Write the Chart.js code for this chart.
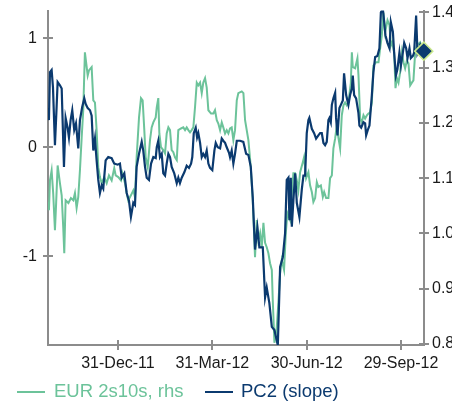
<!DOCTYPE html>
<html lang="en">
<head>
<meta charset="UTF-8">
<title>EUR 2s10s vs PC2 (slope)</title>
<script src="https://cdn.jsdelivr.net/npm/chart.js"></script>
<style>
  body { margin: 0; background: #fff; }
  #wrap { position: relative; width: 452px; height: 403px; font-family: "Liberation Sans", Arial, sans-serif; }
  #chart { position: absolute; left: 0; top: 0; }
  .legend { position: absolute; top: 380px; font-size: 18.5px; line-height: 22px; white-space: nowrap; }
  .swatch { position: absolute; top: 11px; width: 28px; height: 2px; }
</style>
</head>
<body>
<div id="wrap">
  <canvas id="chart" width="452" height="403"></canvas>
  <div class="legend" style="left:17px"><span class="swatch" style="left:0;background:#6cc39a"></span><span style="margin-left:37px;color:#6cc39a">EUR 2s10s, rhs</span></div>
  <div class="legend" style="left:205px"><span class="swatch" style="left:0;background:#0b3a6f"></span><span style="margin-left:36px;color:#0b3a6f">PC2 (slope)</span></div>
</div>

<script>
// x values are days counted from 31-Dec-11
const tickDays = [0, 91, 182, 273];
const tickLabels = ['31-Dec-11', '31-Mar-12', '30-Jun-12', '29-Sep-12'];

// PC2 (slope), left axis
const pc2Days = [-67.5,-66.6,-65.6,-64.0,-62.7,-60.8,-59.2,-58.2,-56.0,-54.3,
  -52.1,-50.5,-48.6,-47.3,-45.7,-44.1,-42.2,-40.5,-38.3,-36.7,
  -34.5,-32.5,-31.2,-29.2,-27.0,-25.4,-23.8,-22.2,-20.6,-19.0,
  -17.4,-15.7,-14.2,-11.9,-9.4,-6.1,-3.6,-0.3,1.9,3.6,
  6.1,8.4,10.6,12.5,14.8,16.4,18.0,20.3,22.9,24.4,
  26.1,27.7,29.9,31.9,34.1,36.4,37.4,38.9,40.5,42.2,
  43.7,45.4,47.0,48.6,50.2,51.8,54.3,56.7,58.2,59.8,
  61.5,64.0,66.3,68.5,70.5,71.7,73.1,75.0,76.3,77.5,
  79.2,80.8,82.3,84.0,85.6,87.2,88.8,91.0,93.0,94.3,
  96.2,98.5,100.1,101.6,103.3,104.9,107.1,108.1,109.7,111.3,
  112.9,114.6,117.8,120.9,123.6,125.8,128.1,130.0,132.2,134.5,
  136.4,139.7,141.9,143.5,146.0,148.4,150.9,154.2,156.4,159.0,
  161.2,162.8,164.4,165.4,166.7,167.7,169.2,170.9,172.5,175.0,
  177.3,178.9,180.5,182.1,183.7,184.6,187.0,189.2,191.1,193.3,
  195.0,196.6,198.2,199.8,201.4,203.0,204.0,205.3,206.3,207.8,
  209.5,210.4,211.7,213.6,215.0,216.9,218.1,220.1,222.3,223.9,
  225.6,226.5,227.8,229.7,231.9,232.9,234.6,236.8,238.4,239.4,
  241.0,242.6,244.9,246.4,248.1,250.3,252.2,253.6,255.5,256.8,
  258.0,259.9,261.9,263.2,265.2,266.4,268.1,269.6,271.5,272.9,
  274.8,276.1,278.0,279.3,281.2,282.5,284.5,285.7,287.6,288.9,
  291.5,293.4];
const pc2Values = [0.36,0.25,0.69,0.71,0.55,0.02,0.37,0.60,0.57,0.54,
  -0.18,0.27,0.18,0.09,0.25,0.34,0.16,0.22,-0.01,0.25,
  0.37,0.45,0.40,0.36,0.34,0.29,-0.03,0.08,-0.12,-0.30,
  -0.42,-0.35,-0.38,-0.12,-0.09,-0.10,-0.15,-0.16,-0.15,-0.28,
  -0.24,-0.42,-0.49,-0.64,-0.51,-0.53,-0.18,-0.06,0.05,-0.03,
  -0.18,-0.28,-0.30,-0.15,-0.09,-0.10,0.00,0.06,-0.09,-0.06,
  -0.24,-0.26,-0.15,-0.06,-0.09,-0.18,-0.24,-0.33,-0.28,-0.33,
  -0.28,-0.23,-0.17,-0.19,-0.15,-0.09,0.13,0.18,0.09,0.13,
  0.04,-0.09,-0.06,-0.09,-0.03,-0.15,-0.19,-0.21,-0.03,0.04,
  0.00,-0.01,0.08,0.06,0.04,0.00,-0.05,-0.09,-0.03,-0.15,
  -0.06,0.06,0.06,0.05,-0.06,-0.07,-0.18,-0.46,-0.94,-0.74,
  -0.92,-0.92,-1.38,-1.29,-1.43,-1.65,-1.68,-1.82,-1.10,-1.01,
  -0.79,-0.30,-0.28,-0.67,-0.28,-0.73,-0.49,-0.24,-0.51,-0.64,
  -0.39,-0.26,-0.26,0.13,0.25,0.27,0.17,0.13,0.08,0.11,
  0.13,0.13,0.04,0.02,0.05,0.25,0.27,0.23,0.39,0.45,
  0.50,0.27,0.11,0.36,0.39,0.43,0.68,0.48,0.39,0.48,
  0.54,0.66,0.48,0.45,0.32,0.20,0.18,0.23,0.22,0.11,
  0.16,0.20,0.48,0.69,0.83,0.84,0.91,1.24,1.27,1.15,
  1.03,0.96,0.91,1.15,1.06,0.87,0.66,0.72,0.87,0.75,
  0.87,0.96,0.91,0.82,0.91,0.82,0.84,0.87,1.21,0.87,
  0.94,0.89];

// EUR 2s10s, right axis
const eurDays = [-67.5,-66.6,-65.6,-64.0,-62.5,-60.8,-59.8,-58.2,-56.0,-54.3,
  -52.8,-51.8,-50.5,-47.8,-45.4,-43.1,-41.5,-39.9,-38.3,-36.7,
  -35.0,-33.5,-31.9,-29.2,-28.0,-25.4,-23.8,-22.2,-20.6,-19.0,
  -17.4,-15.7,-13.2,-10.9,-8.7,-6.1,-3.6,-2.2,0.3,2.9,
  4.2,6.8,8.4,9.9,12.5,14.8,16.4,18.0,20.3,22.2,
  23.8,25.4,26.7,28.7,30.9,32.5,34.1,36.4,37.4,38.9,
  39.9,41.5,43.7,45.4,47.0,48.6,50.2,51.8,53.4,55.0,
  56.7,58.2,60.8,63.0,64.7,66.3,67.9,69.5,71.1,72.7,
  74.3,76.0,77.5,79.2,80.8,82.3,84.0,85.6,87.2,89.8,
  92.0,93.6,95.3,96.8,98.5,100.1,101.6,103.3,104.9,106.5,
  108.1,109.7,111.3,112.9,114.6,116.1,119.4,121.0,122.6,125.8,
  128.1,130.0,132.2,133.9,135.4,137.1,138.7,140.3,141.9,143.5,
  145.1,146.7,148.4,149.3,150.9,153.2,154.7,156.4,158.0,160.2,
  161.9,163.4,166.0,167.7,169.2,170.9,172.5,174.0,175.7,178.3,
  179.5,181.5,183.7,185.3,187.0,188.5,190.2,191.8,193.3,195.7,
  197.6,198.9,200.8,203.0,204.6,206.3,207.8,209.5,211.1,212.6,
  214.3,215.9,217.5,219.1,220.7,222.3,224.6,225.6,226.5,228.8,
  231.0,232.0,233.6,235.2,236.8,238.4,240.1,241.6,243.2,244.9,
  246.4,249.0,251.3,252.9,254.5,256.1,257.7,260.0,261.9,263.2,
  264.5,266.4,267.7,269.1,270.6,272.2,273.9,275.4,277.0,278.7,
  280.2,281.9,283.5,285.0,286.7,288.3,291.5,293.4];
const eurValues = [1.057,1.042,1.096,1.114,1.073,1.006,1.048,1.123,1.091,1.069,
  1.011,0.964,1.060,1.055,1.064,1.060,1.073,1.046,1.066,1.114,
  1.174,1.223,1.328,1.286,1.295,1.301,1.241,1.237,1.187,1.120,
  1.102,1.091,1.102,1.091,1.105,1.096,1.118,1.105,1.102,1.096,
  1.109,1.091,1.073,1.060,1.069,1.078,1.066,1.138,1.210,1.245,
  1.241,1.187,1.138,1.120,1.169,1.192,1.201,1.210,1.228,1.245,
  1.181,1.156,1.151,1.145,1.181,1.192,1.187,1.151,1.147,1.138,
  1.133,1.187,1.190,1.192,1.187,1.192,1.187,1.183,1.187,1.192,
  1.228,1.273,1.268,1.273,1.254,1.273,1.281,1.264,1.223,1.217,
  1.217,1.223,1.205,1.199,1.187,1.201,1.192,1.181,1.187,1.181,
  1.190,1.192,1.169,1.187,1.241,1.254,1.257,1.254,1.205,1.169,
  1.120,1.060,0.957,1.024,0.988,1.001,0.975,1.019,0.983,0.975,
  0.964,0.946,0.934,0.880,0.802,0.831,0.874,0.928,0.952,0.934,
  1.001,1.037,1.024,1.073,1.109,1.109,1.096,1.078,1.111,1.129,
  1.138,1.100,1.111,1.087,1.075,1.057,1.064,1.093,1.084,1.087,
  1.066,1.075,1.064,1.064,1.100,1.105,1.154,1.172,1.196,1.174,
  1.154,1.214,1.232,1.237,1.232,1.237,1.272,1.328,1.301,1.299,
  1.317,1.286,1.208,1.201,1.214,1.208,1.214,1.217,1.219,1.237,
  1.304,1.310,1.310,1.335,1.358,1.400,1.364,1.386,1.377,1.340,
  1.346,1.328,1.263,1.281,1.273,1.292,1.328,1.310,1.299,1.313,
  1.308,1.268,1.273,1.277,1.328,1.340,1.346,1.335];

// latest-value marker on the right axis
const markerDays = [295];
const markerValues = [1.33];

const leftTicks = [-1, 0, 1];
const rightTicks = [0.8, 0.9, 1.0, 1.1, 1.2, 1.3, 1.4];

const green = '#6cc39a';
const navy = '#0b3a6f';
const axisGray = '#8c8c8c';
const labelFont = { family: '"Liberation Sans", Arial, sans-serif', size: 16 };

function pts(xs, ys) {
  return xs.map((x, i) => ({ x: x, y: ys[i] }));
}

// keep the plot box fixed: no extra room for the end labels
function fixY(width) {
  return s => { s.width = width; s.paddingTop = 0; s.paddingBottom = 0; };
}

// small tick marks that cross the axis lines
const crossTicks = {
  id: 'crossTicks',
  afterDatasetsDraw(chart) {
    const ctx = chart.ctx;
    ctx.save();
    ctx.strokeStyle = axisGray;
    ctx.lineWidth = 2;
    ['x', 'y', 'y1'].forEach(id => {
      const s = chart.scales[id];
      s.ticks.forEach(t => {
        const p = Math.round(s.getPixelForValue(t.value));
        ctx.beginPath();
        if (id === 'x') {
          ctx.moveTo(p, s.top - 5); ctx.lineTo(p, s.top + 5);
        } else {
          const ax = id === 'y' ? s.right : s.left;
          ctx.moveTo(ax - 5, p); ctx.lineTo(ax + 5, p);
        }
        ctx.stroke();
      });
    });
    ctx.restore();
  }
};

new Chart(document.getElementById('chart'), {
  type: 'line',
  data: {
    datasets: [
      {
        label: 'marker',
        data: pts(markerDays, markerValues),
        yAxisID: 'y1',
        showLine: false,
        pointStyle: 'rectRot',
        pointRadius: 9,
        backgroundColor: navy,
        borderColor: '#c9e88c',
        pointBorderWidth: 1.5,
        clip: false,
        order: 0
      },
      {
        label: 'PC2 (slope)',
        data: pts(pc2Days, pc2Values),
        yAxisID: 'y',
        borderColor: navy,
        borderWidth: 2.2,
        pointRadius: 0,
        tension: 0,
        order: 1
      },
      {
        label: 'EUR 2s10s, rhs',
        data: pts(eurDays, eurValues),
        yAxisID: 'y1',
        borderColor: green,
        borderWidth: 2,
        pointRadius: 0,
        tension: 0,
        order: 2
      }
    ]
  },
  options: {
    responsive: false,
    animation: false,
    devicePixelRatio: 1,
    layout: { padding: { top: 10, left: 0, right: 0, bottom: 28 } },
    plugins: { legend: { display: false }, tooltip: { enabled: false } },
    scales: {
      x: {
        type: 'linear',
        min: -67.5,
        max: 295.2,
        grid: { display: false, drawTicks: false },
        border: { display: true, color: axisGray, width: 2 },
        afterBuildTicks: s => { s.ticks = tickDays.map(v => ({ value: v })); },
        afterFit: s => { s.height = 30; s.paddingLeft = 0; s.paddingRight = 0; },
        ticks: {
          autoSkip: false, maxRotation: 0, padding: 9,
          color: '#1a1a1a', font: labelFont,
          callback: (v) => tickLabels[tickDays.indexOf(v)]
        }
      },
      y: {
        position: 'left',
        min: -1.817,
        max: 1.257,
        grid: { display: false, drawTicks: false },
        border: { display: true, color: axisGray, width: 2 },
        afterBuildTicks: s => { s.ticks = leftTicks.map(v => ({ value: v })); },
        afterFit: fixY(48),
        ticks: { padding: 11, color: '#1a1a1a', font: labelFont, callback: v => String(v) }
      },
      y1: {
        position: 'right',
        min: 0.798,
        max: 1.4036,
        grid: { display: false, drawTicks: false },
        border: { display: true, color: axisGray, width: 2 },
        afterBuildTicks: s => { s.ticks = rightTicks.map(v => ({ value: v })); },
        afterFit: fixY(28),
        ticks: { padding: 8, color: '#1a1a1a', font: labelFont, callback: v => v.toFixed(1) }
      }
    }
  },
  plugins: [crossTicks]
});
</script>
</body>
</html>
